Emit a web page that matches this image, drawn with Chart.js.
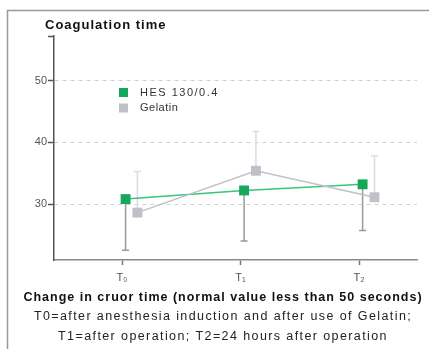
<!DOCTYPE html>
<html>
<head>
<meta charset="utf-8">
<script src="https://cdn.jsdelivr.net/npm/chart.js@4.4.0/dist/chart.umd.min.js"></script>
<style>
  html, body { margin: 0; padding: 0; background: #fff; }
  #wrap { position: relative; width: 429px; height: 349px; }
</style>
</head>
<body>
<div id="wrap"><canvas id="chart" width="429" height="349"></canvas></div>
<script>
// ---- data ----
const timePoints = ["T₀", "T₁", "T₂"];
const hesMean = [30.8, 32.2, 33.2];
const hesLow = [22.5, 24.0, 25.7];
const gelMean = [28.6, 35.4, 31.1];
const gelHigh = [35.3, 41.8, 37.8];
const yTicks = [30, 40, 50];
const seriesNames = ["HES 130/0.4", "Gelatin"];

const chartTitle = "Coagulation time";
const footerLines = [
  "Change in cruor time (normal value less than 50 seconds)",
  "T0=after anesthesia induction and after use of Gelatin;",
  "T1=after operation; T2=24 hours after operation"
];

// small dodge so the two series sit side by side
const HES_SHIFT = 0.03;
const GEL_SHIFT = 0.13;

const FONT = '"Liberation Sans", Arial, sans-serif';
const GREEN = "#16a85a";
const GREEN_LINE = "#3cc47c";
const GREY = "#c0c0c8";

function pts(arr, shift){
  return arr.map((v, i) => ({ x: i + shift, y: v }));
}

// error bars, frame, title, legend, footer
const extras = {
  id: "extras",
  beforeDraw(chart){
    const ctx = chart.ctx;
    ctx.save();
    ctx.strokeStyle = "#999";
    ctx.lineWidth = 1.5;
    ctx.beginPath();
    ctx.moveTo(7.5, 349);
    ctx.lineTo(7.5, 10.5);
    ctx.lineTo(429, 10.5);
    ctx.stroke();

    ctx.fillStyle = "#111";
    ctx.font = "bold 13px " + FONT;
    ctx.textBaseline = "middle";
    ctx.letterSpacing = "1px";
    ctx.fillText(chartTitle, 45, 25);
    ctx.restore();
  },
  beforeDatasetsDraw(chart){
    const ctx = chart.ctx;
    const xs = chart.scales.x, ys = chart.scales.y;
    ctx.save();
    ctx.lineWidth = 1.5;
    const bar = (x, y0, y1, color) => {
      const px = xs.getPixelForValue(x);
      const p0 = ys.getPixelForValue(y0);
      const p1 = ys.getPixelForValue(y1);
      ctx.strokeStyle = color;
      ctx.beginPath();
      ctx.moveTo(px, p0);
      ctx.lineTo(px, p1);
      ctx.moveTo(px - 3.5, p1);
      ctx.lineTo(px + 3.5, p1);
      ctx.stroke();
    };
    gelMean.forEach((v, i) => bar(i + GEL_SHIFT, v, gelHigh[i], "#dcdcdc"));
    hesMean.forEach((v, i) => bar(i + HES_SHIFT, v, hesLow[i], "#9a9a9a"));
    ctx.restore();
  },
  afterDraw(chart){
    const ctx = chart.ctx;
    ctx.save();
    // legend
    const colors = [GREEN, GREY];
    ctx.font = "11px " + FONT;
    ctx.textBaseline = "middle";
    seriesNames.forEach((name, i) => {
      const cy = 92.5 + i * 15.5;
      ctx.fillStyle = colors[i];
      ctx.fillRect(119, cy - 4.5, 9, 9);
      ctx.fillStyle = "#333";
      ctx.letterSpacing = i === 0 ? "1.5px" : "0.5px";
      ctx.fillText(name, 140, cy);
    });

    // footer
    ctx.textAlign = "center";
    ctx.fillStyle = "#111";
    ctx.font = "bold 12.5px " + FONT;
    ctx.letterSpacing = "1px";
    ctx.fillText(footerLines[0], 223, 298);
    ctx.font = "12.5px " + FONT;
    ctx.fillStyle = "#222";
    ctx.letterSpacing = "1.4px";
    ctx.fillText(footerLines[1], 223, 317);
    ctx.fillText(footerLines[2], 223, 337);
    ctx.restore();
  }
};

const ctx = document.getElementById("chart").getContext("2d");
new Chart(ctx, {
  type: "line",
  data: {
    datasets: [
      {
        label: seriesNames[1],
        data: pts(gelMean, GEL_SHIFT),
        borderColor: GREY,
        backgroundColor: GREY,
        borderWidth: 1.5,
        pointStyle: "rect",
        pointRadius: 7,
        pointBorderWidth: 0,
        tension: 0
      },
      {
        label: seriesNames[0],
        data: pts(hesMean, HES_SHIFT),
        borderColor: GREEN_LINE,
        backgroundColor: GREEN,
        pointBackgroundColor: GREEN,
        borderWidth: 1.5,
        pointStyle: "rect",
        pointRadius: 7,
        pointBorderWidth: 0,
        tension: 0
      }
    ]
  },
  options: {
    responsive: false,
    animation: false,
    layout: { padding: { left: 0, top: 36, right: 12, bottom: 0 } },
    plugins: {
      legend: { display: false },
      tooltip: { enabled: false },
      title: { display: false }
    },
    scales: {
      x: {
        type: "linear",
        min: -0.574,
        max: 2.489,
        afterBuildTicks: (s) => { s.ticks = timePoints.map((_, i) => ({ value: i })); },
        afterFit: (s) => { s.height = 89; },
        ticks: {
          callback: (v) => timePoints[v] ?? "",
          color: "#555",
          font: { family: FONT, size: 11 },
          padding: 6
        },
        grid: { drawOnChartArea: false, tickLength: 5, tickColor: "#777", tickWidth: 1.5 },
        border: { color: "#8a8a8a", width: 1.5 }
      },
      y: {
        min: 20.9,
        max: 57.3,
        afterBuildTicks: (s) => { s.ticks = [...yTicks, s.max].map(v => ({ value: v })); },
        afterFit: (s) => { s.width = 54; },
        ticks: {
          callback: (v) => yTicks.includes(v) ? v : "",
          color: "#555",
          font: { family: FONT, size: 11 },
          padding: 1
        },
        grid: {
          color: (c) => (c.tick && yTicks.includes(c.tick.value)) ? "#d0d0d0" : "rgba(0,0,0,0)",
          tickColor: "#555",
          tickLength: 6,
          tickWidth: 1.5,
          tickBorderDash: [],
          lineWidth: 1
        },
        border: { color: "#555", width: 1.5, dash: [4, 4] }
      }
    }
  },
  plugins: [extras]
});
</script>
</body>
</html>
